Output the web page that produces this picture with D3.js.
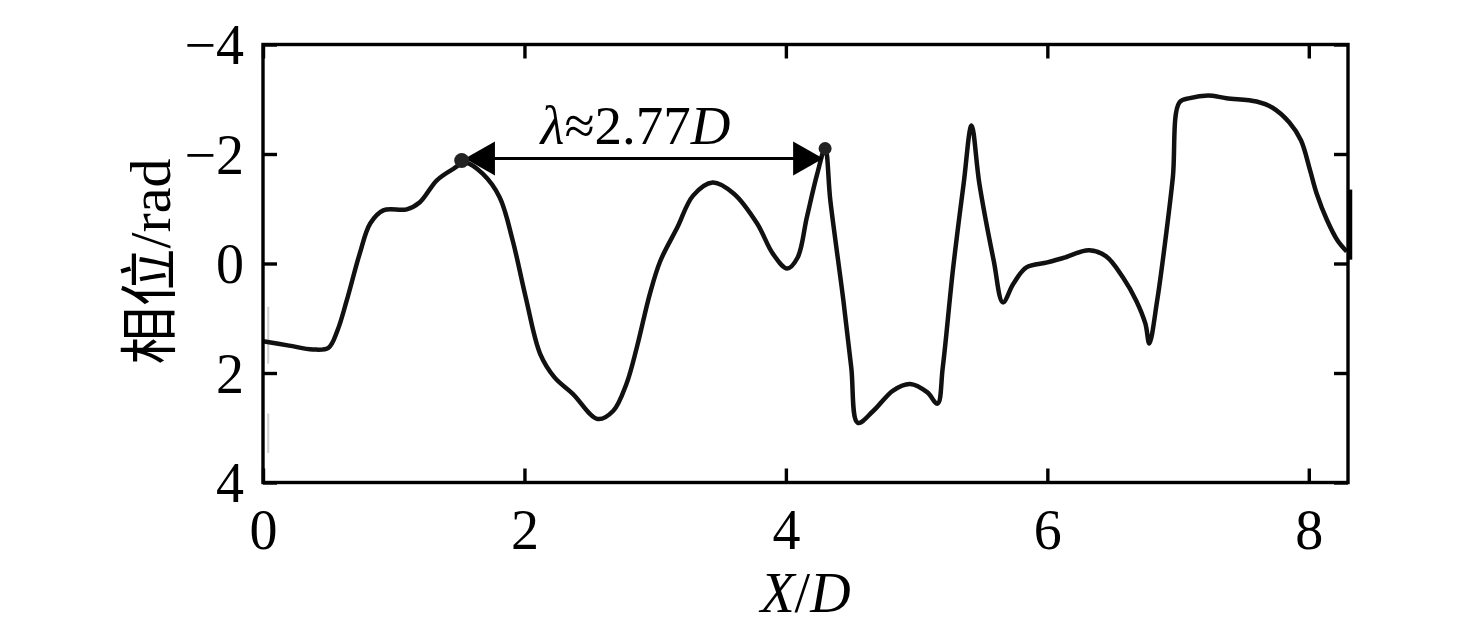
<!DOCTYPE html>
<html><head><meta charset="utf-8">
<script src="https://cdn.jsdelivr.net/npm/d3@7"></script>
<style>
html,body{margin:0;padding:0;background:#fff;}
svg text{font-family:"Liberation Serif","Times New Roman",serif;fill:#000;}
</style></head>
<body><svg id="c" width="1476" height="630"></svg>
<script>
// ---- data ----
const xVals = [0.00,0.20,0.38,0.50,0.57,0.64,0.74,0.82,0.92,1.10,1.20,1.33,1.45,1.55,1.68,1.81,1.91,2.01,2.12,2.23,2.37,2.56,2.68,2.78,2.86,2.96,3.04,3.17,3.29,3.44,3.60,3.78,3.90,4.01,4.09,4.16,4.24,4.30,4.34,4.44,4.50,4.55,4.67,4.82,4.95,5.08,5.16,5.20,5.28,5.36,5.42,5.48,5.59,5.66,5.74,5.84,6.00,6.12,6.32,6.45,6.58,6.68,6.75,6.78,6.84,6.90,6.96,7.01,7.09,7.23,7.37,7.60,7.72,7.85,7.94,8.01,8.06,8.14,8.22,8.29];
const phase = [1.42,1.50,1.57,1.54,1.22,0.68,-0.18,-0.73,-0.97,-0.99,-1.12,-1.52,-1.72,-1.84,-1.64,-1.21,-0.42,0.62,1.65,2.08,2.38,2.84,2.69,2.20,1.53,0.55,-0.05,-0.66,-1.24,-1.48,-1.28,-0.73,-0.18,0.09,-0.11,-0.84,-1.64,-2.10,-1.15,0.68,1.90,2.91,2.69,2.32,2.20,2.35,2.56,1.90,0.07,-1.46,-2.52,-1.46,-0.05,0.71,0.37,0.07,-0.02,-0.10,-0.24,-0.13,0.26,0.68,1.10,1.46,0.68,-0.37,-1.57,-2.94,-3.02,-3.07,-3.02,-2.96,-2.85,-2.58,-2.25,-1.70,-1.28,-0.79,-0.42,-0.22];
const xTicks = [0,2,4,6,8];
const yTicks = [-4,-2,0,2,4];
const xDomain = [0, 8.3];
const yDomain = [-4, 4];
const peakPoints = [[1.52,-1.88],[4.30,-2.10]];
const arrowSpan = {x0:1.545, x1:4.285, y:-1.92};
const lambdaLabel = {x:2.85, y:-2.19, pre:"λ", mid:"≈2.77", post:"D"};
const rightBar = [-1.35,-0.07];
const grayMarks = [[0.79,1.83],[2.74,3.46]];

// ---- layout ----
const svg = d3.select("#c");
const L=263, R=1348, T=44.5, B=482.5;
const x = d3.scaleLinear().domain(xDomain).range([L,R]);
const y = d3.scaleLinear().domain(yDomain).range([T,B]);
const FS = 56, TICK = 14;

// faint scan artifacts near left edge
svg.selectAll("line.gray").data(grayMarks).enter().append("line")
  .attr("x1",x(0.04)).attr("x2",x(0.04))
  .attr("y1",d=>y(d[0])).attr("y2",d=>y(d[1]))
  .attr("stroke","#d0d0d0").attr("stroke-width",2);

// curve
const pts = xVals.map((v,i)=>[v,phase[i]]);
svg.append("path").datum(pts)
  .attr("d", d3.line().x(d=>x(d[0])).y(d=>y(d[1])).curve(d3.curveCatmullRom.alpha(0.5)))
  .attr("fill","none").attr("stroke","#111").attr("stroke-width",4.5).attr("stroke-linejoin","round");

// frame
svg.append("rect").attr("x",L).attr("y",T).attr("width",R-L).attr("height",B-T)
  .attr("fill","none").attr("stroke","#000").attr("stroke-width",3.4);

// ticks via axes (inner)
const gB = svg.append("g").attr("transform",`translate(0,${B})`)
  .call(d3.axisBottom(x).tickValues(xTicks).tickSize(-TICK).tickFormat(d3.format("d")));
const gT = svg.append("g").attr("transform",`translate(0,${T})`)
  .call(d3.axisTop(x).tickValues(xTicks).tickSize(-TICK).tickFormat(""));
const gL = svg.append("g").attr("transform",`translate(${L},0)`)
  .call(d3.axisLeft(y).tickValues(yTicks).tickSize(-TICK).tickPadding(19).tickFormat(d=>d<0?"−"+Math.abs(d):String(d)));
const gR = svg.append("g").attr("transform",`translate(${R},0)`)
  .call(d3.axisRight(y).tickValues(yTicks).tickSize(-TICK).tickFormat(""));
[gB,gT,gL,gR].forEach(g=>{
  g.select(".domain").remove();
  g.selectAll(".tick line").attr("stroke","#000").attr("stroke-width",3.4);
  g.selectAll("text").attr("font-family","Liberation Serif").attr("font-size",FS).attr("fill","#000");
});
gB.selectAll("text").attr("dy","0.71em").attr("y",27);
gL.selectAll("text").attr("dy","0.34em");

// right edge thick bar artifact
svg.append("line").attr("x1",R+2).attr("x2",R+2)
  .attr("y1",y(rightBar[0])).attr("y2",y(rightBar[1]))
  .attr("stroke","#000").attr("stroke-width",4.5);

// arrow
const ay = y(arrowSpan.y), AH=30, AW=17;
svg.append("line").attr("x1",x(arrowSpan.x0)+AH-2).attr("x2",x(arrowSpan.x1)-AH+2)
  .attr("y1",ay).attr("y2",ay).attr("stroke","#000").attr("stroke-width",3);
const xl=x(arrowSpan.x0), xr=x(arrowSpan.x1);
svg.append("path").attr("d",`M${xl},${ay}L${xl+AH},${ay-AW}L${xl+AH},${ay+AW}Z`).attr("fill","#000");
svg.append("path").attr("d",`M${xr},${ay}L${xr-AH},${ay-AW}L${xr-AH},${ay+AW}Z`).attr("fill","#000");

// peak dots
svg.selectAll("circle.pk").data(peakPoints).enter().append("circle")
  .attr("cx",d=>x(d[0])).attr("cy",d=>y(d[1])).attr("r",(d,i)=>i===0?7.5:6.5).attr("fill","#222");

// lambda label
const lt = svg.append("text").attr("x",x(lambdaLabel.x)).attr("y",y(lambdaLabel.y))
  .attr("text-anchor","middle").attr("font-size",55);
lt.append("tspan").attr("font-style","italic").text(lambdaLabel.pre);
lt.append("tspan").text(lambdaLabel.mid);
lt.append("tspan").attr("font-style","italic").text(lambdaLabel.post);

// axis titles
const xt = svg.append("text").attr("x",(L+R)/2).attr("y",612).attr("text-anchor","middle").attr("font-size",FS);
xt.append("tspan").attr("font-style","italic").text("X");
xt.append("tspan").text("/");
xt.append("tspan").attr("font-style","italic").text("D");

const yt = svg.append("text").attr("transform",`translate(170,${(T+B)/2 - 2}) rotate(-90)`)
  .attr("text-anchor","middle").attr("font-size",FS);
yt.append("tspan").attr("font-family","Noto Sans CJK SC").attr("font-size",58).text("相位");
yt.append("tspan").attr("font-size",58).text("/rad");
</script></body></html>
